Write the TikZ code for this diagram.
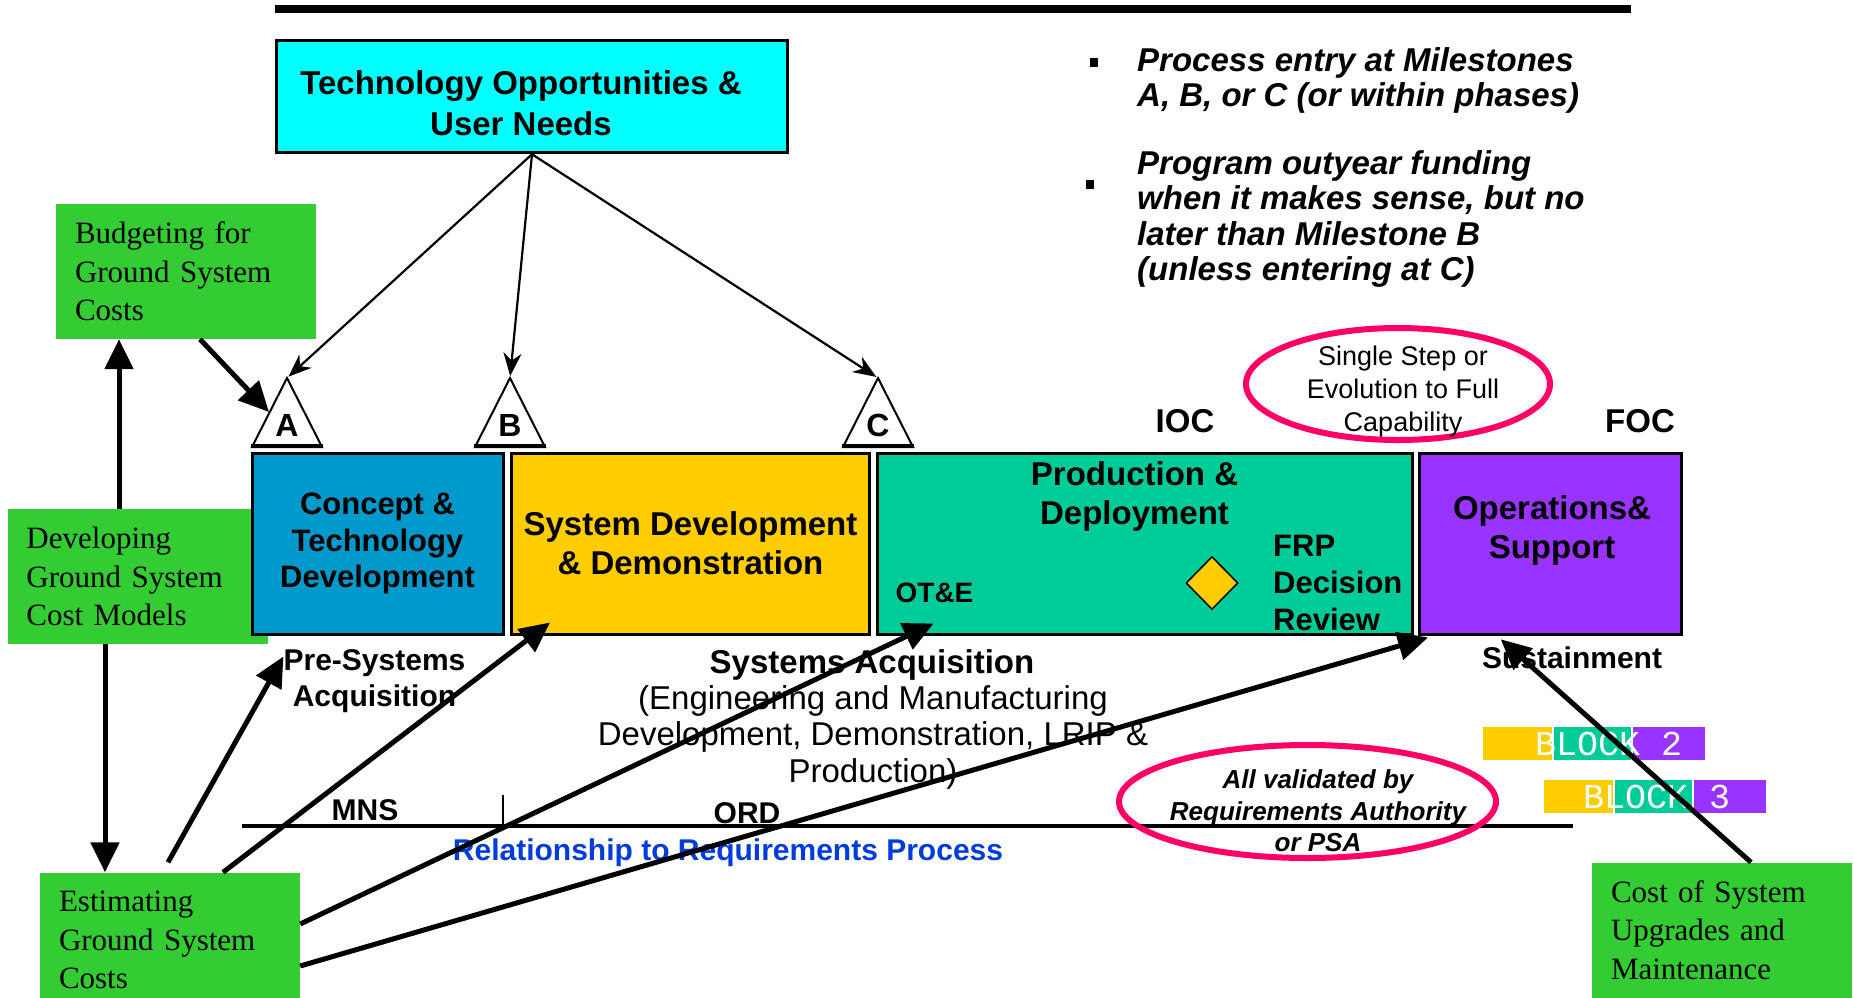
\documentclass[tikz,border=0pt]{standalone}
\usepackage{fontspec}
\setmainfont{Liberation Serif}
\setsansfont{Liberation Sans}
\newfontfamily\tagfont{Liberation Mono}
\usetikzlibrary{arrows.meta,shapes.geometric,calc}
\definecolor{techcyan}{HTML}{00FFFF}
\definecolor{boxgreen}{HTML}{33CC33}
\definecolor{conceptblue}{HTML}{0099CC}
\definecolor{sddyellow}{HTML}{FFCC00}
\definecolor{prodteal}{HTML}{00CC99}
\definecolor{opspurple}{HTML}{9933FF}
\definecolor{ovalpink}{HTML}{FF0066}
\definecolor{reqblue}{RGB}{0,60,220}
\begin{document}
        \begin{tikzpicture}[x=1pt,y=-1pt]
            \tikzset{
                phase/.style={draw=black,line width=3pt,inner sep=0pt,minimum height=181pt,align=center,font={\sffamily\bfseries\fontsize{33}{39}\selectfont}},
                phasetext/.style={inner sep=0pt,align=center,font={\sffamily\bfseries\fontsize{33}{39}\selectfont}},
                boldtext/.style={inner sep=0pt,align=center,font={\sffamily\bfseries\fontsize{30}{36}\selectfont}},
                plaintext/.style={inner sep=0pt,align=center,font={\sffamily\fontsize{33}{36.5}\selectfont}},
                notetext/.style={inner sep=0pt,anchor=west,align=left,font={\sffamily\bfseries\itshape\fontsize{33}{35.5}\selectfont}},
                greenbox/.style={fill=boxgreen,text width=222pt,inner xsep=19pt,minimum height=135pt,align=left,font={\fontsize{31}{38.5}\selectfont}},
                bulletsq/.style={fill=black,inner sep=0pt,minimum width=8pt,minimum height=9pt},
                oval/.style={ellipse,draw=ovalpink,line width=6pt,inner sep=0pt},
                blocktag/.style={inner sep=0pt,text=white,font={\tagfont\fontsize{35}{35}\selectfont}},
                thinarrow/.style={line width=2.2pt,-{Stealth[length=23pt,width=18pt]},shorten >=2pt},
                bigarrow/.style={line width=5pt,-{Triangle[length=30pt,width=28pt]}},
            }
            \useasboundingbox (0,0) rectangle (1853,997);
            \draw [line width=8pt] (275,9) -- (1631,9);
            \node [draw,line width=3.5pt,fill=techcyan,minimum width=511pt,minimum height=112pt] (tech) at (532,96.5) {};
            \node [phasetext,font={\sffamily\bfseries\fontsize{33}{41}\selectfont}] (techtext) at (521,103) {Technology Opportunities \&\\User Needs};
            % milestone notes
            \node [bulletsq] (dot1) at (1094,62) {};
            \node [notetext] (note1) at (1137,80.5) {Process entry at Milestones\\A, B, or C (or within phases)};
            \node [bulletsq] (dot2) at (1090,184) {};
            \node [notetext] (note2) at (1137,219) {Program outyear funding\\when it makes sense, but no\\later than Milestone B\\(unless entering at C)};
            % cost activities
            \node [greenbox] (budget) at (186,271.5) {Budgeting for\\Ground System\\Costs};
            \node [greenbox] (develop) at (137.5,576.5) {Developing\\Ground System\\Cost Models};
            \node [greenbox] (estimate) at (170,940) {Estimating\\Ground System\\Costs};
            \node [greenbox] (upgrade) at (1722,930) {Cost of System\\Upgrades and\\Maintenance};
            % phases
            \node [phase,fill=conceptblue,minimum width=251pt,font={\sffamily\bfseries\fontsize{31}{36.5}\selectfont}] (concept) at (377.5,543.5) {Concept \&\\Technology\\Development};
            \node [phase,fill=sddyellow,minimum width=358pt] (sdd) at (690.5,543.5) {System Development\\\& Demonstration};
            \node [phase,fill=prodteal,minimum width=535pt] (prod) at (1145,543.5) {};
            \node [phase,fill=opspurple,minimum width=262pt] (ops) at (1550.5,543.5) {};
            \node [phasetext] (prodtext) at (1134.5,496) {Production \&\\Deployment};
            \node [phasetext] (opstext) at (1552,530.5) {Operations\&\\Support};
            \node [diamond,draw,line width=1.5pt,fill=sddyellow,inner sep=0pt,minimum width=52pt,minimum height=53pt] (frp) at (1212,583) {};
            \node [phasetext,anchor=west,align=left,font={\sffamily\bfseries\fontsize{31}{37}\selectfont}] (frptext) at (1273,582.5) {FRP\\Decision\\Review};
            \node [boldtext,font={\sffamily\bfseries\fontsize{28}{30}\selectfont}] (ote) at (934.5,593) {OT\&E};
            % milestones
            \foreach \m/\x in {A/287,B/510,C/878}{
                \draw [fill=white,line width=2pt] (\x-35,447) -- (\x,378) -- (\x+35,447) -- cycle;
                \draw [line width=4pt] (\x-36,446) -- (\x+36,446);
                \coordinate (ms\m) at (\x,378);
                \node [boldtext,font={\sffamily\bfseries\fontsize{32}{32}\selectfont}] (let\m) at (\x,425) {\m};
            }
            \node [phasetext] (ioc) at (1185,421) {IOC};
            \node [phasetext] (foc) at (1640,421) {FOC};
            \node [oval,minimum width=304pt,minimum height=112pt] (evo) at (1398,384) {};
            \node [plaintext,font={\sffamily\fontsize{27}{33}\selectfont}] (evotext) at (1403,391.5) {Single Step or\\Evolution to Full\\Capability};
            % below the phases
            \node [boldtext] (presys) at (374.5,681.5) {Pre-Systems\\Acquisition};
            \node [boldtext,font={\sffamily\bfseries\fontsize{33}{36}\selectfont}] (sysacq) at (872,664.5) {Systems Acquisition};
            \node [plaintext] (sysacqsub) at (873,737) {(Engineering and Manufacturing\\Development, Demonstration, LRIP \&\\Production)};
            \node [boldtext] (sust) at (1572,657.5) {Sustainment};
            % requirements
            \draw [line width=3.5pt] (242,826) -- (1573,826);
            \draw [line width=2pt] (503,795) -- (503,826);
            \node [boldtext] (mns) at (365,810) {MNS};
            \node [boldtext] (ord) at (747,813) {ORD};
            \node [boldtext,text=reqblue] (reqproc) at (728,853) {Relationship to Requirements Process};
            \node [oval,minimum width=377pt,minimum height=113pt] (rq) at (1307.5,801.5) {};
            \node [boldtext,font={\sffamily\bfseries\itshape\fontsize{26}{31.5}\selectfont}] (rqtext) at (1318,811) {All validated by\\Requirements Authority\\or PSA};
            % blocks
            \foreach \n/\x/\y/\t in {2/1483/727/1608.5,3/1544/780/1656.5}{
                \fill [sddyellow] (\x,\y) rectangle ++(69,33);
                \fill [prodteal] (\x+71,\y) rectangle ++(77,33);
                \fill [opspurple] (\x+150,\y) rectangle ++(72,33);
                \node [blocktag] (block\n) at (\t,\y+16.5) {BLOCK \n};
            }
            % arrows
            \draw [thinarrow] (tech.south) -- (msA);
            \draw [thinarrow] (tech.south) -- (msB);
            \draw [thinarrow] (tech.south) -- (msC);
            \draw [bigarrow] ($(budget.south)+(14,0)$) -- ($(msA)+(-18,34)$);
            \draw [bigarrow] ($(develop.north)+(-18.5,0)$) -- ($(budget.south)+(-67,0)$);
            \draw [bigarrow] ($(develop.south)+(-32.5,0)$) -- ($(estimate.north)+(-65,0)$);
            \draw [bigarrow] ($(estimate.north)+(-2,-10)$) -- ($(presys.west)+(0,-25)$);
            \draw [bigarrow] ($(estimate.north)+(53,0)$) -- ($(sdd.south west)+(40,-13)$);
            \draw [bigarrow] ($(estimate.east)+(0,-16)$) -- ($(prod.south west)+(57.5,-12)$);
            \draw [bigarrow] ($(estimate.east)+(0,26)$) -- ($(ops.south west)+(10,2)$);
            \draw [bigarrow] ($(upgrade.north)+(29,0)$) -- ($(sust.north west)+(19,-7)$);
        \end{tikzpicture}
\end{document}
